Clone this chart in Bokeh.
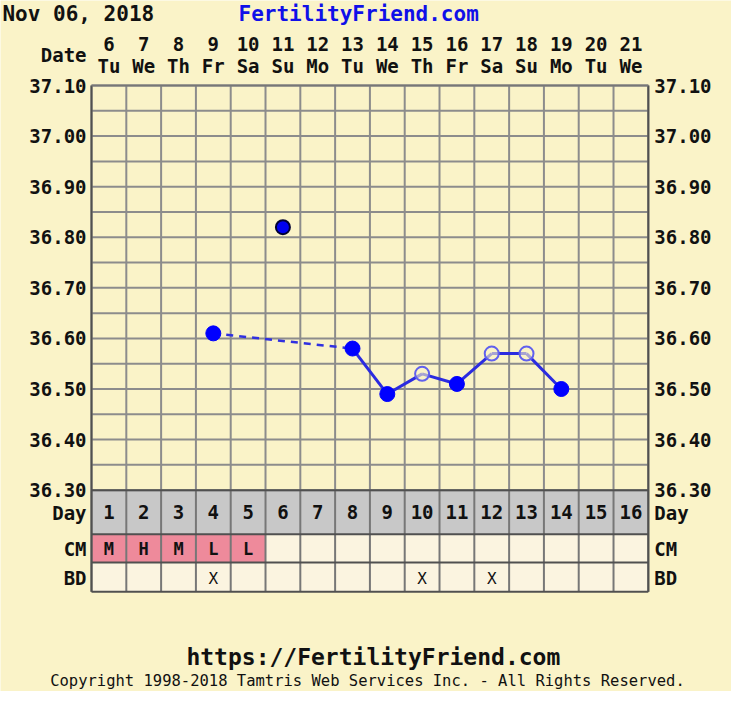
from bokeh.plotting import figure
from bokeh.models import Range1d
from bokeh.embed import file_html
from bokeh.resources import INLINE
from bokeh.core.properties import value

# ---------------- data ----------------
dates = [6, 7, 8, 9, 10, 11, 12, 13, 14, 15, 16, 17, 18, 19, 20, 21]
weekdays = ["Tu", "We", "Th", "Fr", "Sa", "Su", "Mo", "Tu", "We", "Th", "Fr", "Sa", "Su", "Mo", "Tu", "We"]
cycle_days = list(range(1, 17))
temps = [None, None, None, 36.61, None, 36.82, None, 36.58, 36.49, 36.53, 36.51, 36.57, 36.57, 36.50, None, None]
temp_kind = ["", "", "", "filled", "", "discard", "", "filled", "filled", "open", "filled", "open", "open", "filled", "", ""]
cm = ["M", "H", "M", "L", "L", "", "", "", "", "", "", "", "", "", "", ""]
bd = ["", "", "", "X", "", "", "", "", "", "X", "", "X", "", "", "", ""]
temp_ticks = [36.30, 36.40, 36.50, 36.60, 36.70, 36.80, 36.90, 37.00, 37.10]
temp_tick_labels = ["36.30", "36.40", "36.50", "36.60", "36.70", "36.80", "36.90", "37.00", "37.10"]
row_labels = ["Day", "CM", "BD"]
header_left = "Nov 06, 2018"
header_site = "FertilityFriend.com"
footer_url = "https://FertilityFriend.com"
footer_copy = "Copyright 1998-2018 Tamtris Web Services Inc. - All Rights Reserved."

# ---------------- layout (reference pixels scaled to canvas) ----------------
W, H = 731, 691
SX, SY = W / 747, H / 707
n = len(cycle_days)
cw = (662 - 93) * SX / n            # px per column
py = (501 - 87) * SY / 0.8          # px per degree
x_start = 0.5 - 93 * SX / cw
x_end = x_start + W / cw
y_end = 37.10 + 87 * SY / py
y_start = y_end - H / py


def X(ref_px):
    return x_start + ref_px * SX / cw


def Y(ref_px):
    return y_end - ref_px * SY / py


t_min, t_max = temp_ticks[0], temp_ticks[-1]
day_top, day_bot = t_min, Y(546)
cm_bot = Y(575)
bd_bot = Y(605)

BG = "#FAF3C8"
CELL = "#FBF4E0"
PINK = "#EE8A9B"
GRAYROW = "#C8C8C8"
GRID = "#8C8C8C"
DARK = "#505050"
TXT = "#111111"
FONT = value("DejaVu Sans Mono")

p = figure(width=W, height=H, x_range=Range1d(x_start, x_end), y_range=Range1d(y_start, y_end),
           x_axis_type=None, y_axis_type=None, toolbar_location=None, output_backend="svg",
           min_border=0, background_fill_color=BG, border_fill_color=BG, outline_line_color=None)
p.grid.visible = False

left_edges = [d - 0.5 for d in cycle_days]
right_edges = [d + 0.5 for d in cycle_days]

# rows below chart
p.quad(left=left_edges, right=right_edges, top=day_top, bottom=day_bot, fill_color=GRAYROW, line_color=None)
p.quad(left=left_edges, right=right_edges, top=day_bot, bottom=cm_bot,
       fill_color=[PINK if c else CELL for c in cm], line_color=None)
p.quad(left=left_edges, right=right_edges, top=cm_bot, bottom=bd_bot, fill_color=CELL, line_color=None)

# grid
edges = left_edges + [right_edges[-1]]
hlines = [round(t_min + 0.05 * k, 2) for k in range(int(round((t_max - t_min) / 0.05)) + 1)]
p.segment(x0=edges[0], x1=edges[-1], y0=hlines, y1=hlines, line_color=GRID, line_width=2)
p.segment(x0=edges, x1=edges, y0=t_min, y1=t_max, line_color=GRID, line_width=2)
p.segment(x0=edges, x1=edges, y0=bd_bot, y1=t_min, line_color="#777777", line_width=2)
rb = [t_min, day_bot, cm_bot, bd_bot]
p.segment(x0=edges[0], x1=edges[-1], y0=rb, y1=rb, line_color=DARK, line_width=2)
p.segment(x0=[edges[0], edges[-1]], x1=[edges[0], edges[-1]], y0=bd_bot, y1=t_max, line_color=DARK, line_width=2)
p.segment(x0=edges[0], x1=edges[-1], y0=t_max, y1=t_max, line_color="#777777", line_width=2)

# temperature lines
valid = [(d, t) for d, t, k in zip(cycle_days, temps, temp_kind) if t is not None and k != "discard"]
sx0, sy0, sx1, sy1 = [], [], [], []
dx0, dy0, dx1, dy1 = [], [], [], []
for (d0, t0), (d1, t1) in zip(valid[:-1], valid[1:]):
    if d1 - d0 == 1:
        sx0.append(d0); sy0.append(t0); sx1.append(d1); sy1.append(t1)
    else:
        dx0.append(d0); dy0.append(t0); dx1.append(d1); dy1.append(t1)
p.segment(x0=sx0, y0=sy0, x1=sx1, y1=sy1, line_color="#2B2BE0", line_width=3)
p.segment(x0=dx0, y0=dy0, x1=dx1, y1=dy1, line_color="#3030E0", line_width=2.5, line_dash="7 6")


def pick(kind):
    xs = [d for d, k in zip(cycle_days, temp_kind) if k == kind]
    ys = [t for t, k in zip(temps, temp_kind) if k == kind]
    return xs, ys


fx, fy = pick("filled")
ox, oy = pick("open")
qx, qy = pick("discard")
p.scatter(fx, fy, size=15, fill_color="#0000FF", line_color="#0000FF")
p.scatter(ox, oy, size=14, fill_color=BG, fill_alpha=0.6, line_color="#6060EE", line_width=2)
p.scatter(qx, qy, size=14, fill_color="#0000F0", line_color="#000033", line_width=2)

# axis-like texts
common = dict(text_font=FONT, text_color=TXT)
bold19 = dict(text_font_size="19px", text_font_style="bold", text_baseline="middle", **common)
p.text(x=edges[0], y=temp_ticks, text=temp_tick_labels, x_offset=-5, text_align="right", **bold19)
p.text(x=edges[-1], y=temp_ticks, text=temp_tick_labels, x_offset=6, text_align="left", **bold19)
p.text(x=cycle_days, y=Y(45), text=[str(d) for d in dates], text_align="center", **bold19)
p.text(x=cycle_days, y=Y(67), text=weekdays, text_align="center", **bold19)
p.text(x=[edges[0]], y=[Y(56)], text=["Date"], x_offset=-5, text_align="right", **bold19)

day_mid = (day_top + day_bot) / 2
cm_mid = (day_bot + cm_bot) / 2
bd_mid = (cm_bot + bd_bot) / 2
p.text(x=cycle_days, y=day_mid, text=[str(d) for d in cycle_days], text_align="center", **bold19)
p.text(x=cycle_days, y=cm_mid, text=cm, text_align="center", y_offset=1,
       text_baseline="middle", text_font_size="17px", text_font_style="bold", **common)
p.text(x=cycle_days, y=bd_mid, text=bd, text_align="center", y_offset=1,
       text_baseline="middle", text_font_size="16px", **common)
row_mids = [day_mid, cm_mid, bd_mid]
p.text(x=edges[0], y=row_mids, text=row_labels, x_offset=-5, text_align="right", y_offset=1, **bold19)
p.text(x=edges[-1], y=row_mids, text=row_labels, x_offset=6, text_align="left", y_offset=1, **bold19)

# header / footer
p.text(x=[X(2)], y=[Y(0)], text=[header_left], y_offset=1, text_align="left", text_baseline="top",
       text_font_size="21px", text_font_style="bold", **common)
p.text(x=[X(366)], y=[Y(0)], text=[header_site], y_offset=1, text_align="center", text_baseline="top",
       text_font_size="21px", text_font_style="bold", text_font=FONT, text_color="#1010E8")
p.text(x=[X(381)], y=[Y(672)], text=[footer_url], text_align="center", text_baseline="middle",
       text_font_size="23px", text_font_style="bold", **common)
p.text(x=[X(375)], y=[y_start], text=[footer_copy], y_offset=-2, text_align="center",
       text_baseline="bottom", text_font_size="15.5px", **common)

open("out.html", "w").write(file_html(p, INLINE))
